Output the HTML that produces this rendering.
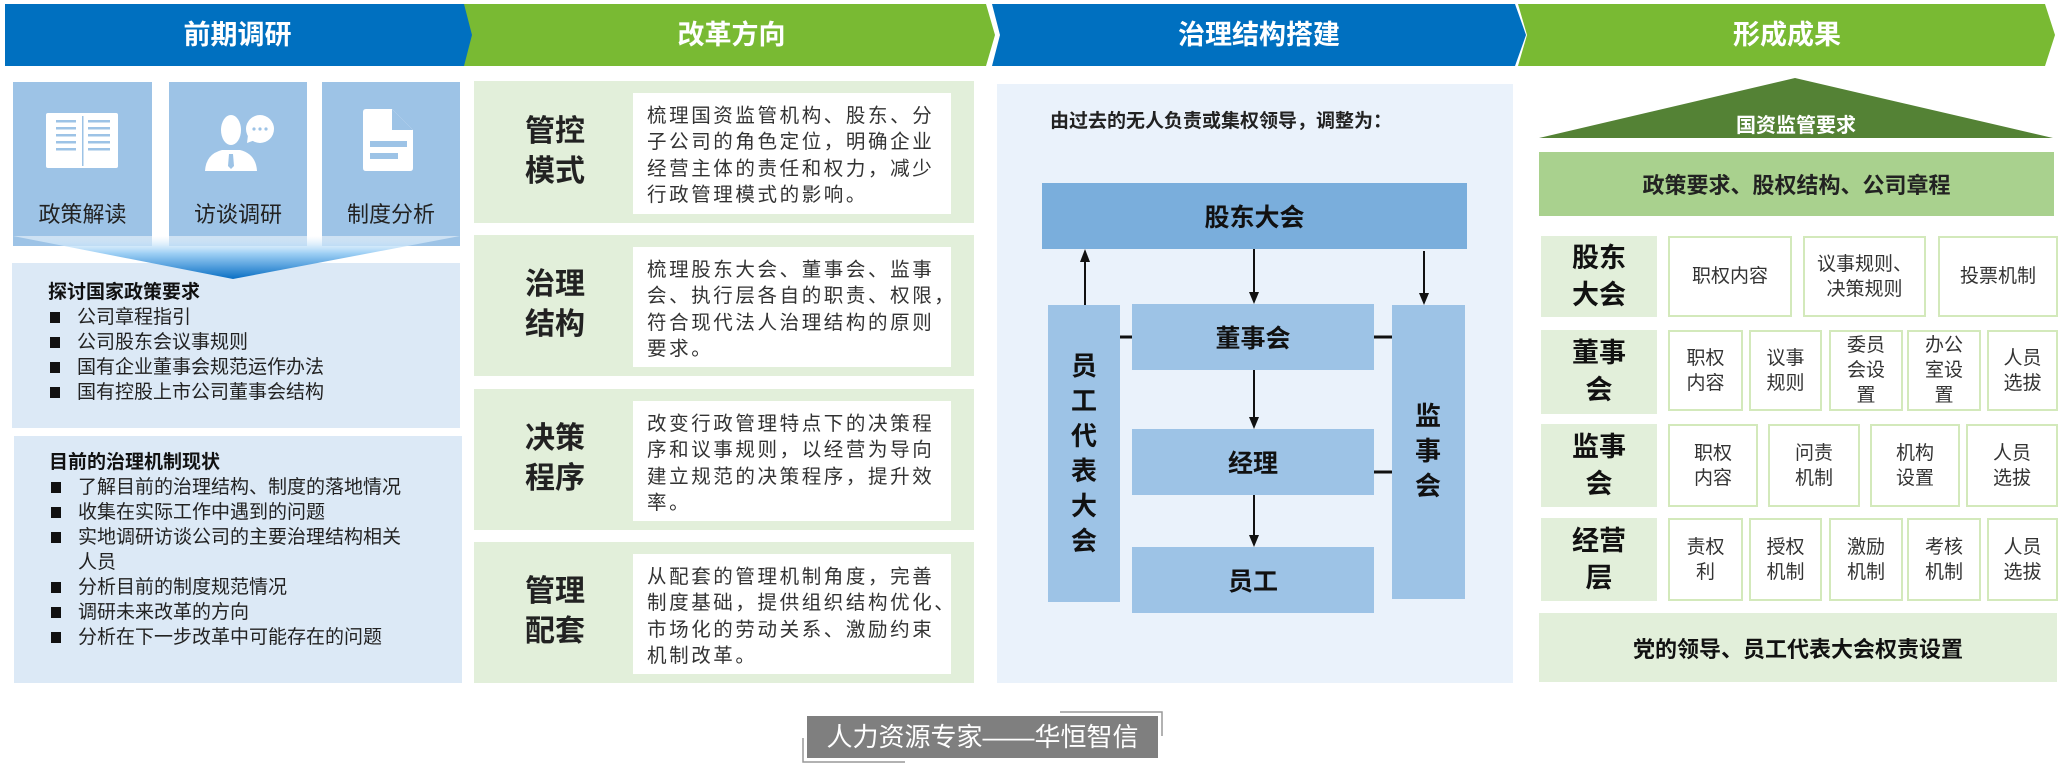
<!DOCTYPE html>
<html><head><meta charset="utf-8">
<style>
*{margin:0;padding:0;box-sizing:border-box}
body{width:2061px;height:767px;background:#fff;position:relative;overflow:hidden;font-family:"Liberation Sans","Noto Sans CJK SC",sans-serif;color:#222}
.a{position:absolute}
.hdr{position:absolute;top:4px;height:62px;line-height:62px;color:#fff;font-weight:bold;font-size:27px;text-align:center}
.ib{position:absolute;top:82px;height:164px;background:#9dc3e6}
.ib .t{position:absolute;top:115px;width:100%;text-align:center;font-size:22px;color:#222}
.lb{position:absolute;background:#dce9f6;font-size:19px;line-height:25px}
.lb .ti{font-weight:bold;color:#111}
.lb .it{position:relative;padding-left:29px}
.lb .it:before{content:"";position:absolute;left:2px;top:7px;width:10px;height:11px;background:#111}
.gb{position:absolute;left:474px;width:500px;background:#e2efda}
.gb .h{position:absolute;left:40px;width:82px;text-align:center;font-size:30px;font-weight:bold;line-height:40px;color:#222}
.gb .w{position:absolute;left:159px;right:23px;top:12px;bottom:9px;background:#fff;padding:10px 0 0 14px;font-size:19.5px;line-height:26.3px;color:#333;letter-spacing:2.6px;white-space:nowrap;overflow:hidden}
.bx{position:absolute;background:#9dc3e6;display:flex;align-items:center;justify-content:center;font-size:25px;font-weight:bold;color:#111}
.vt{position:absolute;font-size:26px;font-weight:bold;line-height:35px;width:30px;text-align:center;color:#111}
.rl{position:absolute;left:1541px;width:116px;background:#e2efda;display:flex;align-items:center;justify-content:center;text-align:center;font-size:27px;font-weight:bold;line-height:37px;color:#111}
.c{position:absolute;border:2.5px solid #d3e9bb;background:#fff;display:flex;align-items:center;justify-content:center;text-align:center;font-size:19px;line-height:25px;color:#333}
</style></head><body>

<svg class="a" style="left:0;top:0" width="2061" height="767">
<defs>
<linearGradient id="tg" x1="0" y1="0" x2="0" y2="1"><stop offset="0" stop-color="#ffffff" stop-opacity="0.5"/><stop offset="0.4" stop-color="#9fd0f5"/><stop offset="1" stop-color="#0a6fc4"/></linearGradient>
</defs>
<polygon points="5,4 468,4 476,35 468,66 5,66" fill="#0070c0"/>
<polygon points="464,4 986,4 995,35 986,66 464,66 472,35" fill="#79ba33"/>
<polygon points="992,4 1515,4 1526,35 1515,66 992,66 1000,35" fill="#0070c0"/>
<polygon points="1518,4 2045,4 2055,35 2045,66 1518,66 1527,35" fill="#79ba33"/>
</svg>
<div class="hdr" style="left:5px;width:465px">前期调研</div>
<div class="hdr" style="left:474px;width:515px">改革方向</div>
<div class="hdr" style="left:1000px;width:518px">治理结构搭建</div>
<div class="hdr" style="left:1527px;width:520px">形成成果</div>

<!-- column 1 -->
<div class="ib" style="left:13px;width:139px"><div class="t">政策解读</div></div>
<div class="ib" style="left:169px;width:138px"><div class="t">访谈调研</div></div>
<div class="ib" style="left:322px;width:138px"><div class="t">制度分析</div></div>
<svg class="a" style="left:0;top:0" width="480" height="300">
<rect x="46" y="113" width="72" height="55" rx="2" fill="#fff"/>
<rect x="82" y="116" width="1.5" height="50" fill="#9dc3e6"/>
<g fill="#9dc3e6"><rect x="56" y="120" width="20" height="2.5"/><rect x="56" y="127" width="20" height="2.5"/><rect x="56" y="134" width="20" height="2.5"/><rect x="56" y="141" width="20" height="2.5"/><rect x="56" y="148" width="20" height="2.5"/>
<rect x="88" y="120" width="22" height="2.5"/><rect x="88" y="127" width="22" height="2.5"/><rect x="88" y="134" width="22" height="2.5"/><rect x="88" y="141" width="22" height="2.5"/><rect x="88" y="148" width="22" height="2.5"/></g>
<ellipse cx="231" cy="130" rx="10" ry="15" fill="#fff"/>
<path d="M205,171 Q206,154 222,150 L240,150 Q256,154 257,171 Z" fill="#fff"/>
<path d="M229,154 L233,154 L234,166 L231,169 L228,166 Z" fill="#9dc3e6"/>
<circle cx="260" cy="129" r="14" fill="#fff"/><path d="M248,135 L247,143 L255,140 Z" fill="#fff"/>
<g fill="#9dc3e6"><circle cx="254" cy="129" r="1.6"/><circle cx="260" cy="129" r="1.6"/><circle cx="266" cy="129" r="1.6"/></g>
<path d="M366,109 L392,109 L413,130 L413,168 Q413,171 410,171 L366,171 Q363,171 363,168 L363,112 Q363,109 366,109 Z" fill="#fff"/>
<path d="M392,109 L392,130 L413,130" fill="#9dc3e6"/>
<rect x="370" y="141" width="37" height="6" fill="#9dc3e6"/><rect x="370" y="153" width="28" height="6" fill="#9dc3e6"/>
</svg>
<div class="lb" style="left:12px;top:263px;width:448px;height:165px;padding:17px 0 0 36px">
<div class="ti">探讨国家政策要求</div>
<div class="it">公司章程指引</div><div class="it">公司股东会议事规则</div><div class="it">国有企业董事会规范运作办法</div><div class="it">国有控股上市公司董事会结构</div>
</div>
<svg class="a" style="left:0;top:0" width="480" height="300"><polygon points="13,236 460,236 233,279" fill="url(#tg)"/></svg>
<div class="lb" style="left:14px;top:436px;width:448px;height:247px;padding:14px 0 0 35px">
<div class="ti">目前的治理机制现状</div>
<div class="it">了解目前的治理结构、制度的落地情况</div><div class="it">收集在实际工作中遇到的问题</div><div class="it">实地调研访谈公司的主要治理结构相关<br>人员</div><div class="it">分析目前的制度规范情况</div><div class="it">调研未来改革的方向</div><div class="it">分析在下一步改革中可能存在的问题</div>
</div>

<!-- column 2 -->
<div class="gb" style="top:81px;height:142px"><div class="h" style="top:31px">管控<br>模式</div><div class="w">梳理国资监管机构、股东、分<br>子公司的角色定位，明确企业<br>经营主体的责任和权力，减少<br>行政管理模式的影响。</div></div>
<div class="gb" style="top:235px;height:141px"><div class="h" style="top:30px">治理<br>结构</div><div class="w">梳理股东大会、董事会、监事<br>会、执行层各自的职责、权限，<br>符合现代法人治理结构的原则<br>要求。</div></div>
<div class="gb" style="top:389px;height:141px"><div class="h" style="top:30px">决策<br>程序</div><div class="w">改变行政管理特点下的决策程<br>序和议事规则，以经营为导向<br>建立规范的决策程序，提升效<br>率。</div></div>
<div class="gb" style="top:542px;height:141px"><div class="h" style="top:30px">管理<br>配套</div><div class="w">从配套的管理机制角度，完善<br>制度基础，提供组织结构优化、<br>市场化的劳动关系、激励约束<br>机制改革。</div></div>

<!-- column 3 -->
<div class="a" style="left:997px;top:84px;width:516px;height:599px;background:#eaf2fb"></div>
<div class="a" style="left:1050px;top:106px;font-size:19px;font-weight:bold;color:#222">由过去的无人负责或集权领导，调整为：</div>
<div class="bx" style="left:1042px;top:183px;width:425px;height:66px;background:#7aaedc">股东大会</div>
<div class="bx" style="left:1048px;top:305px;width:72px;height:297px"></div>
<div class="bx" style="left:1392px;top:305px;width:73px;height:294px"></div>
<div class="bx" style="left:1132px;top:304px;width:242px;height:66px">董事会</div>
<div class="bx" style="left:1132px;top:429px;width:242px;height:66px">经理</div>
<div class="bx" style="left:1132px;top:547px;width:242px;height:66px">员工</div>
<div class="vt" style="left:1069px;top:349px">员<br>工<br>代<br>表<br>大<br>会</div>
<div class="vt" style="left:1413px;top:399px">监<br>事<br>会</div>
<svg class="a" style="left:0;top:0" width="2061" height="767">
<g stroke="#111" stroke-width="2" fill="none">
<line x1="1085" y1="305" x2="1085" y2="252"/>
<line x1="1254" y1="249" x2="1254" y2="301"/>
<line x1="1424" y1="251" x2="1424" y2="302"/>
<line x1="1254" y1="370" x2="1254" y2="426"/>
<line x1="1254" y1="495" x2="1254" y2="544"/>
<line x1="1120" y1="337" x2="1132" y2="337" stroke-width="3"/>
<line x1="1374" y1="337" x2="1392" y2="337" stroke-width="3"/>
<line x1="1374" y1="472" x2="1392" y2="472" stroke-width="3"/>
</g>
<g fill="#111">
<path d="M1080,262 L1090,262 L1085,249 Z"/>
<path d="M1249,292 L1259,292 L1254,304 Z"/>
<path d="M1419,293 L1429,293 L1424,305 Z"/>
<path d="M1249,417 L1259,417 L1254,429 Z"/>
<path d="M1249,535 L1259,535 L1254,547 Z"/>
</g>
<polygon points="1795,78 2053,138 1539,138" fill="#548235"/>
<g stroke="#999" stroke-width="1.5" fill="none"><polyline points="1060,712 1162,712 1162,736"/><polyline points="803,738 803,762 905,762"/></g>
</svg>

<!-- column 4 -->
<div class="a" style="left:1539px;top:109px;width:514px;text-align:center;color:#fff;font-weight:bold;font-size:20px">国资监管要求</div>
<div class="a" style="left:1539px;top:152px;width:515px;height:64px;background:#a9d18e;display:flex;align-items:center;justify-content:center;font-size:22px;font-weight:bold;color:#222">政策要求、股权结构、公司章程</div>

<div class="rl" style="top:236px;height:81px">股东<br>大会</div>
<div class="c" style="left:1668px;top:236px;width:124px;height:81px">职权内容</div>
<div class="c" style="left:1803px;top:236px;width:123px;height:81px">议事规则、<br>决策规则</div>
<div class="c" style="left:1938px;top:236px;width:120px;height:81px">投票机制</div>

<div class="rl" style="top:330px;height:84px">董事<br>会</div>
<div class="c" style="left:1668px;top:330px;width:75px;height:81px">职权<br>内容</div>
<div class="c" style="left:1749px;top:330px;width:73px;height:81px">议事<br>规则</div>
<div class="c" style="left:1829px;top:330px;width:74px;height:81px">委员<br>会设<br>置</div>
<div class="c" style="left:1907px;top:330px;width:74px;height:81px">办公<br>室设<br>置</div>
<div class="c" style="left:1987px;top:330px;width:71px;height:81px">人员<br>选拔</div>

<div class="rl" style="top:424px;height:83px">监事<br>会</div>
<div class="c" style="left:1668px;top:424px;width:90px;height:83px">职权<br>内容</div>
<div class="c" style="left:1768px;top:424px;width:92px;height:83px">问责<br>机制</div>
<div class="c" style="left:1870px;top:424px;width:90px;height:83px">机构<br>设置</div>
<div class="c" style="left:1966px;top:424px;width:92px;height:83px">人员<br>选拔</div>

<div class="rl" style="top:518px;height:83px">经营<br>层</div>
<div class="c" style="left:1668px;top:518px;width:75px;height:83px">责权<br>利</div>
<div class="c" style="left:1749px;top:518px;width:73px;height:83px">授权<br>机制</div>
<div class="c" style="left:1829px;top:518px;width:74px;height:83px">激励<br>机制</div>
<div class="c" style="left:1907px;top:518px;width:74px;height:83px">考核<br>机制</div>
<div class="c" style="left:1987px;top:518px;width:71px;height:83px">人员<br>选拔</div>

<div class="a" style="left:1539px;top:613px;width:518px;height:69px;background:#e2efda;display:flex;align-items:center;justify-content:center;font-size:22px;font-weight:bold;color:#111">党的领导、员工代表大会权责设置</div>

<div class="a" style="left:807px;top:716px;width:351px;height:42px;background:#7f7f7f;color:#fff;font-size:26px;line-height:42px;text-align:center;white-space:nowrap">人力资源专家——华恒智信</div>
</body></html>
